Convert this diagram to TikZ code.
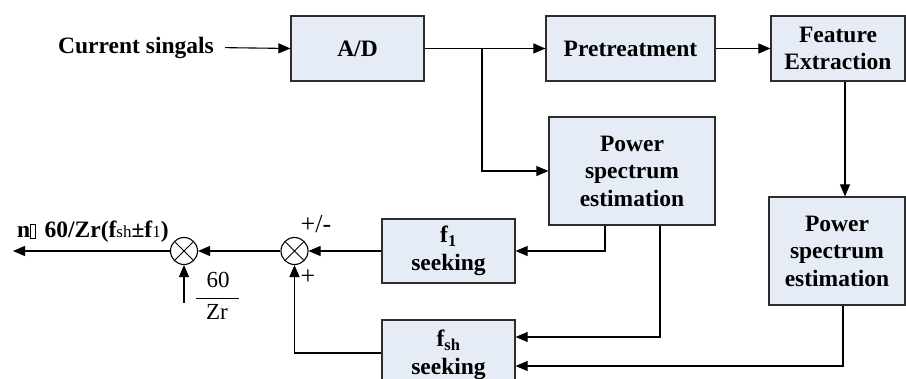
\documentclass[tikz,border=0pt]{standalone}
\usepackage{fontspec}
\setmainfont{Liberation Serif}
\usetikzlibrary{arrows.meta,calc}
\definecolor{boxfill}{RGB}{230,236,246}
\definecolor{edgecol}{RGB}{45,45,45}
\begin{document}
\begin{tikzpicture}[x=1pt,y=-1pt,
  blk/.style={draw=edgecol, fill=boxfill, line width=1.2pt, font=\bfseries\fontsize{23.5}{27.5}\selectfont, align=center, inner sep=0pt},
  arr/.style={-{Triangle[length=12pt,width=10pt]}, line width=1.1pt},
  sumj/.style={circle, draw, line width=1.1pt, minimum size=27pt, inner sep=0pt,
    path picture={\draw[line width=0.9pt] (path picture bounding box.north west) -- (path picture bounding box.south east)
      (path picture bounding box.north east) -- (path picture bounding box.south west);}},
  lab/.style={font=\bfseries\fontsize{23.5}{27}\selectfont, inner sep=0pt},
  sym/.style={font=\fontsize{26}{26}\selectfont, inner sep=0pt}
]
\path[use as bounding box] (0,0) rectangle (906,379);
\clip (0,0) rectangle (906,379);

\node[lab, anchor=east] (cur) at (214,47.5) {Current singals};
\node[blk, minimum width=133pt, minimum height=65pt] (ad) at (357.5,48.5) {A/D};
\node[blk, minimum width=169pt, minimum height=65pt] (pre) at (630.5,48.5) {Pretreatment};
\node[blk, minimum width=134pt, minimum height=65pt] (fe) at (838,48.5) {Feature\\Extraction};
\node[blk, minimum width=166pt, minimum height=108pt] (ps1) at (632,171) {Power\\spectrum\\estimation};
\node[blk, minimum width=136pt, minimum height=108pt] (ps2) at (837,251) {Power\\spectrum\\estimation};
\node[blk, minimum width=133pt, minimum height=64pt] (f1) at (448.5,251) {f\textsubscript{1}\\seeking};
\node[blk, minimum width=133pt, minimum height=70pt] (fsh) at (448.5,355) {f\textsubscript{sh}\\seeking};
\node[sumj] (j2) at (294.5,251) {};
\node[sumj] (j1) at (184,251) {};

\node[lab, anchor=west] (outlab) at (17,232) {n{\fboxsep=0pt\fboxrule=0.7pt\fbox{\rule{0pt}{13pt}\hspace{4pt}}}\hspace{9pt}60/Zr(f{\mdseries\fontsize{17}{17}\selectfont sh}±f{\mdseries\fontsize{17}{17}\selectfont 1})};
\node[sym] (pm) at (316,224) {+/-};
\node[sym] (plus) at (308,277) {+};
\node[sym, font=\fontsize{23}{23}\selectfont] (n60) at (218,280) {60};
\node[sym, font=\fontsize{23}{23}\selectfont] (nzr) at (217,312) {Zr};
\draw[line width=0.9pt] (196,298) -- (239,298);

\coordinate (jn) at (482,48.5);
\coordinate (out) at (13,251);
\coordinate (in60) at (184,303);

\draw[arr, shorten <=11pt] (cur.east) -- (ad.west);
\draw[arr] (ad) -- (pre);
\draw[arr] (jn) |- (ps1.west);
\draw[arr] (pre) -- (fe);
\draw[arr] ([xshift=7pt]fe.south) -- ([xshift=7pt]fe.south |- ps2.north);
\draw[arr] ([xshift=-27pt]ps1.south) |- (f1.east);
\draw[arr] ([xshift=28pt]ps1.south) |- ([yshift=18pt]fsh.east);
\draw[arr] ([xshift=6pt]ps2.south) |- ([yshift=-11pt]fsh.east);
\draw[arr] ([yshift=2pt]fsh.west) -| (j2.south);
\draw[arr] (f1.west) -- (j2.east);
\draw[arr] (j2.west) -- (j1.east);
\draw[arr] (j1.west) -- (out);
\draw[arr] (in60) -- (j1.south);
\end{tikzpicture}
\end{document}
